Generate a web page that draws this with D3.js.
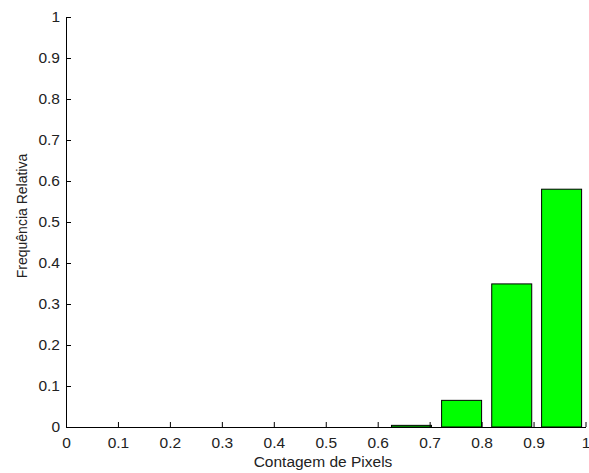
<!DOCTYPE html>
<html><head><meta charset="utf-8">
<script src="https://cdn.jsdelivr.net/npm/d3@7"></script>
<style>body{margin:0;background:#fff}svg{display:block}text{font-family:"Liberation Sans",Arial,sans-serif}</style>
</head><body>
<svg id="c" width="589" height="473"></svg>
<script>
const binCenters = [0.665, 0.7615, 0.858, 0.954];
const frequencies = [0.004, 0.065, 0.349, 0.58];
const barWidth = 0.077;
const xTicks = [0,0.1,0.2,0.3,0.4,0.5,0.6,0.7,0.8,0.9,1];
const yTicks = [0,0.1,0.2,0.3,0.4,0.5,0.6,0.7,0.8,0.9,1];
const xLabel = "Contagem de Pixels";
const yLabel = "Frequência Relativa";

const svg = d3.select("#c");
const L = 66, R = 585.5, T = 17, B = 427;
const x = d3.scaleLinear().domain([0,1]).range([L,R]);
const y = d3.scaleLinear().domain([0,1]).range([B,T]);

svg.selectAll("rect.bar").data(binCenters).join("rect")
  .attr("class","bar")
  .attr("x", d => x(d - barWidth/2))
  .attr("width", d => x(d + barWidth/2) - x(d - barWidth/2))
  .attr("y", (d,i) => y(frequencies[i]))
  .attr("height", (d,i) => y(0) - y(frequencies[i]))
  .attr("fill", "#00ff00").attr("stroke", "#000").attr("stroke-width", 1);

const fmt = d => d === 0 ? "0" : d === 1 ? "1" : d3.format(".1f")(d);
const xAxis = d3.axisBottom(x).tickValues(xTicks).tickFormat(fmt).tickSizeInner(-5).tickSizeOuter(0);
const yAxis = d3.axisLeft(y).tickValues(yTicks).tickFormat(fmt).tickSizeInner(-5).tickSizeOuter(0);

const gx = svg.append("g").attr("transform",`translate(0,${B})`).call(xAxis);
const gy = svg.append("g").attr("transform",`translate(${L},0)`).call(yAxis);
[gx,gy].forEach(g=>{
  g.attr("font-size", null);
  g.select(".domain").attr("stroke","#000");
  g.selectAll(".tick line").attr("stroke","#000");
  g.selectAll(".tick text").attr("fill","#222").style("font-size","15.5px").style("font-family","'Liberation Sans',Arial,sans-serif");
});
gy.selectAll(".tick text").attr("x", -6);
gx.selectAll(".tick text").attr("y", 10);

svg.append("text").attr("x", 323).attr("y", 467).attr("text-anchor","middle")
  .attr("fill","#222").style("font-size","15.5px").text(xLabel);
svg.append("text").attr("transform",`translate(27,216) rotate(-90)`).attr("text-anchor","middle")
  .attr("fill","#222").style("font-size","14px").text(yLabel);
</script>
</body></html>
